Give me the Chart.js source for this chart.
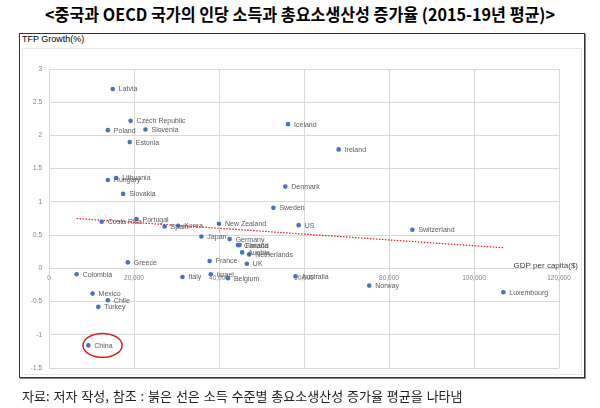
<!DOCTYPE html>
<html>
<head>
<meta charset="utf-8">
<script src="https://cdn.jsdelivr.net/npm/chart.js@4"></script>
<style>
  body { margin: 0; width: 600px; height: 408px; background: #fff; position: relative; overflow: hidden; }
  #title { position: absolute; top: 1px; left: 0; width: 600px; text-align: center;
           font: bold 17px "Noto Sans CJK KR"; color: #000; transform: scaleX(0.95); }
  #frame { position: absolute; left: 19px; top: 33px; width: 566px; height: 345px;
           box-sizing: border-box; border: 1px solid #333; box-shadow: 1px 1px 0 #888; }
  #inner { position: absolute; left: 22px; top: 48px; width: 560px; height: 327px;
           box-sizing: border-box; border: 1px solid #e6e6e6; }
  #ytitle { position: absolute; left: 22px; top: 34px; font: 9px "Liberation Sans"; color: #000; }
  #footer { position: absolute; left: 22px; top: 386px; font: 13px "Noto Sans CJK KR"; color: #222;
            white-space: nowrap; word-spacing: 1px; }
  canvas { position: absolute; left: 0; top: 0; }
</style>
</head>
<body>
<div id="title">&lt;중국과 OECD 국가의 인당 소득과 총요소생산성 증가율 (2015-19년 평균)&gt;</div>
<div id="frame"></div>
<div id="inner"></div>
<div id="ytitle">TFP Growth(%)</div>
<canvas id="chart" width="600" height="408"></canvas>
<div id="footer">자료: 저자 작성, 참조 : 붉은 선은 소득 수준별 총요소생산성 증가율 평균을 나타냄</div>

<script>
// 국가별 값
const countries = ["Latvia", "Czech Republic", "Slovenia", "Poland", "Estonia", "Lithuania", "Hungary",
    "Slovakia", "Portugal", "Costa Rica", "Spain", "Korea", "Greece", "Colombia", "Mexico", "Chile",
    "Turkey", "China", "Italy", "Iceland", "Ireland", "Denmark", "Sweden", "New Zealand", "US", "Japan",
    "Germany", "Canada", "Finland", "Austria", "Netherlands", "France", "UK", "Israel", "Belgium",
    "Australia", "Norway", "Switzerland", "Luxembourg"];

const gdpPerCapita = [15000, 19200, 22700, 13850, 19000, 15800, 13850,
    17450, 20600, 12400, 27200, 30400, 18550, 6500, 10250, 13850,
    11600, 9250, 31400, 56250, 68150, 55600, 52800, 40000, 58750, 35850,
    42500, 44450, 44850, 45450, 47100, 37800, 46550, 38050, 42100,
    58000, 75350, 85500, 106900];

const tfpGrowth = [2.70, 2.22, 2.09, 2.08, 1.90, 1.36, 1.33,
    1.12, 0.74, 0.70, 0.63, 0.64, 0.09, -0.09, -0.38, -0.48,
    -0.58, -1.16, -0.13, 2.17, 1.79, 1.23, 0.91, 0.67, 0.65, 0.48,
    0.44, 0.35, 0.35, 0.24, 0.21, 0.11, 0.07, -0.09, -0.15,
    -0.12, -0.26, 0.58, -0.36];

// 붉은 추세선 양 끝
const trendX = [6500, 106900];
const trendY = [0.75, 0.31];

// 축 눈금
const xTicks = [0, 20000, 40000, 60000, 80000, 100000, 120000];
const yTicks = [-1.5, -1, -0.5, 0, 0.5, 1, 1.5, 2, 2.5, 3];

// 중국 강조 타원 (데이터 단위)
const chinaMark = { x: 12600, y: -1.16, rx: 4600, ry: 0.18 };


// -----------------------------
// 점 라벨 + 축 제목 + 타원
// -----------------------------
const extrasPlugin = {
    id: "extras",
    afterDatasetsDraw(chart) {
        const ctx = chart.ctx;
        const meta = chart.getDatasetMeta(0);
        const xs = chart.scales.x, ys = chart.scales.y;

        ctx.save();
        ctx.font = "7px 'Liberation Sans'";
        ctx.fillStyle = "#595959";
        ctx.textBaseline = "middle";
        meta.data.forEach((pt, i) => {
            ctx.fillText(countries[i], pt.x + 6, pt.y + 0.5);
        });

        // x축 제목
        ctx.font = "8px 'Liberation Sans'";
        ctx.fillStyle = "#404040";
        ctx.textAlign = "right";
        ctx.fillText("GDP per capita($)", chart.chartArea.right + 19, ys.getPixelForValue(0) - 3);

        // 중국 타원
        const cx = xs.getPixelForValue(chinaMark.x);
        const cy = ys.getPixelForValue(chinaMark.y);
        const rx = xs.getPixelForValue(chinaMark.x + chinaMark.rx) - cx;
        const ry = cy - ys.getPixelForValue(chinaMark.y + chinaMark.ry);
        ctx.beginPath();
        ctx.ellipse(cx, cy, rx, ry, 0, 0, Math.PI * 2);
        ctx.strokeStyle = "#d9201f";
        ctx.lineWidth = 1.5;
        ctx.stroke();
        ctx.restore();
    }
};

const tickFont = { family: "Liberation Sans", size: 6.5 };

new Chart(document.getElementById("chart"), {
    type: "scatter",
    data: {
        datasets: [{
            data: countries.map((c, i) => ({ x: gdpPerCapita[i], y: tfpGrowth[i] })),
            backgroundColor: "#4472C4",
            borderWidth: 0,
            pointRadius: 2.3
        }, {
            type: "line",
            data: trendX.map((x, i) => ({ x: x, y: trendY[i] })),
            borderColor: "#e8161b",
            borderWidth: 1.2,
            borderDash: [1.5, 1.5],
            pointRadius: 0,
            fill: false
        }]
    },
    plugins: [extrasPlugin],
    options: {
        responsive: false,
        animation: false,
        layout: { padding: { left: 0, top: 69, right: 41, bottom: 40 } },
        plugins: { legend: { display: false }, tooltip: { enabled: false } },
        scales: {
            x: {
                type: "linear",
                position: { y: 0 },
                min: xTicks[0],
                max: xTicks[xTicks.length - 1],
                afterBuildTicks: s => { s.ticks = xTicks.map(v => ({ value: v })); },
                ticks: {
                    font: tickFont, color: "#7f7f7f", padding: 6, maxRotation: 0,
                    callback: v => v.toLocaleString("en-US")
                },
                grid: { color: "#d9d9d9", drawTicks: false },
                border: { color: "#d9d9d9" }
            },
            y: {
                min: yTicks[0],
                max: yTicks[yTicks.length - 1],
                afterBuildTicks: s => { s.ticks = yTicks.map(v => ({ value: v })); },
                afterFit: s => { s.width = 49; },
                ticks: { font: tickFont, color: "#7f7f7f", padding: 7, callback: v => String(v) },
                grid: { color: "#d9d9d9", drawTicks: false },
                border: { color: "#d9d9d9" }
            }
        }
    }
});
</script>
</body>
</html>
